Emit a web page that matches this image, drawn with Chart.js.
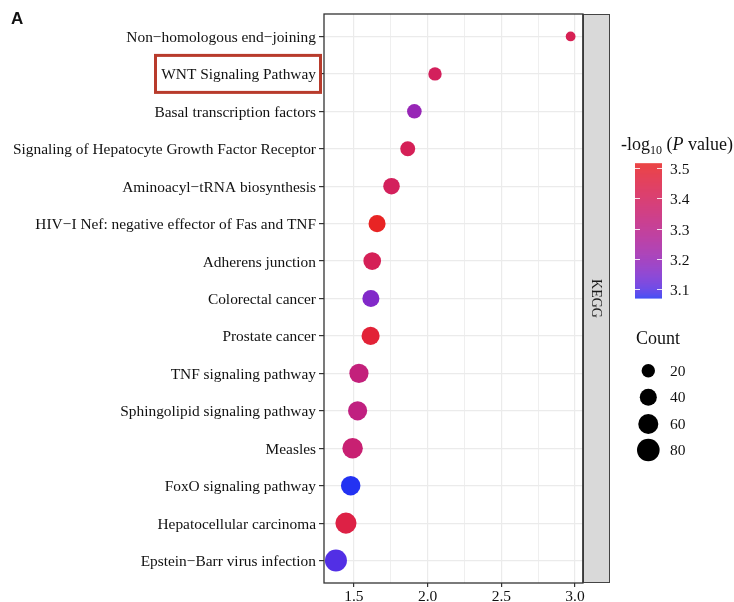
<!DOCTYPE html>
<html>
<head>
<meta charset="utf-8">
<script src="https://cdn.jsdelivr.net/npm/chart.js@4.4.0/dist/chart.umd.min.js"></script>
<style>
  html, body { margin: 0; padding: 0; background: #fff; }
</style>
</head>
<body>
<canvas id="chart" width="734" height="602"></canvas>
<script>
// ---- Data ----

const pathways = [
  'Non\u2212homologous end\u2212joining',
  'WNT Signaling Pathway',
  'Basal transcription factors',
  'Signaling of Hepatocyte Growth Factor Receptor',
  'Aminoacyl\u2212tRNA biosynthesis',
  'HIV\u2212I Nef: negative effector of Fas and TNF',
  'Adherens junction',
  'Colorectal cancer',
  'Prostate cancer',
  'TNF signaling pathway',
  'Sphingolipid signaling pathway',
  'Measles',
  'FoxO signaling pathway',
  'Hepatocellular carcinoma',
  'Epstein\u2212Barr virus infection'
]
const enrichment = [2.97, 2.05, 1.91, 1.865, 1.755, 1.657, 1.624, 1.615, 1.613, 1.534, 1.525, 1.491, 1.478, 1.446, 1.378]
const logP       = [3.42, 3.40, 3.20, 3.41, 3.40, 3.515, 3.41, 3.16, 3.48, 3.33, 3.32, 3.35, 3.073, 3.45, 3.10]
const counts     = [5, 20, 26, 28, 37, 40, 44, 40, 47, 54, 54, 63, 56, 68, 75]

const xMajor = [1.5, 2.0, 2.5, 3.0]
const xMinor = [1.75, 2.25, 2.75]
const colorTicks = [3.1, 3.2, 3.3, 3.4, 3.5]
const countLegend = [20, 40, 60, 80]
const facetLabel = 'KEGG'
const highlighted = 'WNT Signaling Pathway'

const SERIF = '"Liberation Serif", "Times New Roman", serif'
const INK = '#111'

// ---- Colour scale (blue -> red, Lab interpolation like ggplot) ----

const LOW = [35, 50, 242]
const HIGH = [232, 36, 36]
const pMin = Math.min(...logP)
const pMax = Math.max(...logP)

function toLin(c) { c /= 255; return c <= 0.04045 ? c / 12.92 : Math.pow((c + 0.055) / 1.055, 2.4) }
function toSrgb(c) {
  c = c <= 0.0031308 ? 12.92 * c : 1.055 * Math.pow(c, 1 / 2.4) - 0.055
  return Math.round(Math.max(0, Math.min(1, c)) * 255)
}
function rgbToLab(rgb) {
  const [r, g, b] = rgb.map(toLin)
  const x = (0.4124 * r + 0.3576 * g + 0.1805 * b) / 0.95047
  const y = (0.2126 * r + 0.7152 * g + 0.0722 * b)
  const z = (0.0193 * r + 0.1192 * g + 0.9505 * b) / 1.08883
  const f = t => t > 0.008856 ? Math.cbrt(t) : 7.787 * t + 16 / 116
  return [116 * f(y) - 16, 500 * (f(x) - f(y)), 200 * (f(y) - f(z))]
}
function labToRgb([L, a, bb]) {
  const fy = (L + 16) / 116, fx = fy + a / 500, fz = fy - bb / 200
  const inv = t => t * t * t > 0.008856 ? t * t * t : (t - 16 / 116) / 7.787
  const x = inv(fx) * 0.95047, y = inv(fy), z = inv(fz) * 1.08883
  const r = 3.2406 * x - 1.5372 * y - 0.4986 * z
  const g = -0.9689 * x + 1.8758 * y + 0.0415 * z
  const b = 0.0557 * x - 0.2040 * y + 1.0570 * z
  return [toSrgb(r), toSrgb(g), toSrgb(b)]
}
const labLow = rgbToLab(LOW), labHigh = rgbToLab(HIGH)
function colorFor(v) {
  const t = Math.max(0, Math.min(1, (v - pMin) / (pMax - pMin)))
  const lab = labLow.map((c, i) => c + (labHigh[i] - c) * t)
  const [r, g, b] = labToRgb(lab)
  return `rgb(${r},${g},${b})`
}

// area grows linearly with count (matches the size legend)
function radiusFor(n) { return Math.sqrt(17 + 1.39 * n) }

// ---- Extra drawing: panel border, strip, legends, annotations ----

const decorations = {
  id: 'decorations',
  afterDraw(chart) {
    const { ctx, chartArea: a } = chart
    ctx.save()

    // panel border
    ctx.strokeStyle = '#333'
    ctx.lineWidth = 1.3
    ctx.strokeRect(a.left, a.top, a.right - a.left, a.bottom - a.top)

    // facet strip
    const sx = a.right, sw = 26
    ctx.fillStyle = '#d9d9d9'
    ctx.fillRect(sx, a.top, sw, a.bottom - a.top)
    ctx.strokeStyle = '#444'
    ctx.lineWidth = 1
    ctx.strokeRect(sx + 0.5, a.top + 0.5, sw, a.bottom - a.top - 1)
    ctx.strokeStyle = '#333'
    ctx.lineWidth = 1.3
    ctx.beginPath(); ctx.moveTo(sx, a.top); ctx.lineTo(sx, a.bottom); ctx.stroke()
    ctx.save()
    ctx.translate(sx + sw / 2, (a.top + a.bottom) / 2)
    ctx.rotate(Math.PI / 2)
    ctx.fillStyle = '#1a1a1a'
    ctx.font = `14px ${SERIF}`
    ctx.textAlign = 'center'; ctx.textBaseline = 'middle'
    ctx.fillText(facetLabel, 0, 0)
    ctx.restore()

    // colour legend title: -log10 (P value)
    ctx.fillStyle = INK
    ctx.textBaseline = 'alphabetic'
    ctx.textAlign = 'left'
    let tx = 621, ty = 150
    ctx.font = `18px ${SERIF}`
    ctx.fillText('-log', tx, ty); tx += ctx.measureText('-log').width
    ctx.font = `12px ${SERIF}`
    ctx.fillText('10', tx, ty + 4); tx += ctx.measureText('10').width
    ctx.font = `18px ${SERIF}`
    ctx.fillText(' (', tx, ty); tx += ctx.measureText(' (').width
    ctx.font = `italic 18px ${SERIF}`
    ctx.fillText('P', tx, ty); tx += ctx.measureText('P').width
    ctx.font = `18px ${SERIF}`
    ctx.fillText(' value)', tx, ty)

    // colour bar
    const bx = 635, bw = 27, bTop = 163.3, bBot = 297.7
    const yOf = v => bBot - (v - pMin) / (pMax - pMin) * (bBot - bTop)
    for (let y = bTop; y < bBot; y += 1) {
      const v = pMax - (y - bTop) / (bBot - bTop) * (pMax - pMin)
      ctx.fillStyle = colorFor(v)
      ctx.fillRect(bx, y, bw, 1.2)
    }
    ctx.strokeStyle = 'rgba(255,255,255,0.85)'
    ctx.lineWidth = 1
    ctx.font = `15.5px ${SERIF}`
    ctx.textBaseline = 'middle'
    for (const v of colorTicks) {
      const y = Math.round(yOf(v)) + 0.5
      ctx.beginPath()
      ctx.moveTo(bx, y); ctx.lineTo(bx + 5, y)
      ctx.moveTo(bx + bw - 5, y); ctx.lineTo(bx + bw, y)
      ctx.stroke()
      ctx.fillStyle = INK
      ctx.fillText(v.toFixed(1), 670, y + 1)
    }

    // size legend
    ctx.font = `18px ${SERIF}`
    ctx.fillStyle = INK
    ctx.fillText('Count', 636, 339)
    const rowsY = [370.7, 397.3, 424, 450]
    countLegend.forEach((n, i) => {
      ctx.fillStyle = '#000'
      ctx.beginPath()
      ctx.arc(648.3, rowsY[i], radiusFor(n), 0, Math.PI * 2)
      ctx.fill()
      ctx.fillStyle = INK
      ctx.font = `15.5px ${SERIF}`
      ctx.fillText(String(n), 670, rowsY[i] + 1)
    })

    // red box round the highlighted pathway label
    const yScale = chart.scales.y
    const hy = yScale.getPixelForValue(pathways.indexOf(highlighted))
    ctx.strokeStyle = '#b83b2c'
    ctx.lineWidth = 3
    ctx.strokeRect(155.5, hy - 18.5, 165, 37)

    // panel letter
    ctx.fillStyle = '#111'
    ctx.font = 'bold 17px "Liberation Sans", Arial, sans-serif'
    ctx.textAlign = 'left'
    ctx.textBaseline = 'middle'
    ctx.fillText('A', 11, 19)

    ctx.restore()
  }
}

// ---- Chart ----

new Chart(document.getElementById('chart'), {
  type: 'bubble',
  data: {
    datasets: [{
      data: pathways.map((p, i) => ({ x: enrichment[i], y: i, r: radiusFor(counts[i]) })),
      backgroundColor: logP.map(colorFor),
      borderWidth: 0,
      hoverBorderWidth: 0
    }]
  },
  options: {
    responsive: false,
    animation: false,
    devicePixelRatio: 1,
    layout: { padding: { top: 14, right: 151, left: 0, bottom: 0 } },
    plugins: { legend: { display: false }, tooltip: { enabled: false } },
    scales: {
      x: {
        type: 'linear',
        min: 1.297,
        max: 3.054,
        afterBuildTicks: s => { s.ticks = [...xMajor, ...xMinor].sort((a, b) => a - b).map(v => ({ value: v })) },
        afterFit: s => { s.height = 19 },
        ticks: {
          autoSkip: false, maxRotation: 0, padding: 1,
          color: INK, font: { family: SERIF, size: 15.5 },
          callback: v => xMajor.includes(v) ? v.toFixed(1) : ''
        },
        grid: {
          color: '#ebebeb',
          lineWidth: c => xMajor.includes(c.tick?.value) ? 1.2 : 0.8,
          tickColor: c => xMajor.includes(c.tick?.value) ? '#333' : 'rgba(0,0,0,0)',
          tickLength: 4
        },
        border: { display: false }
      },
      y: {
        type: 'linear',
        reverse: true,
        min: -0.6,
        max: pathways.length - 0.4,
        afterBuildTicks: s => { s.ticks = pathways.map((p, i) => ({ value: i })) },
        afterFit: s => { s.width = 324 },
        ticks: {
          autoSkip: false, padding: 3, labelOffset: 1.5,
          color: INK, font: { family: SERIF, size: 15.4 },
          callback: v => pathways[v]
        },
        grid: { color: '#ebebeb', lineWidth: 1.2, tickColor: '#333', tickLength: 5 },
        border: { display: false }
      }
    }
  },
  plugins: [decorations]
})
</script>
</body>
</html>
